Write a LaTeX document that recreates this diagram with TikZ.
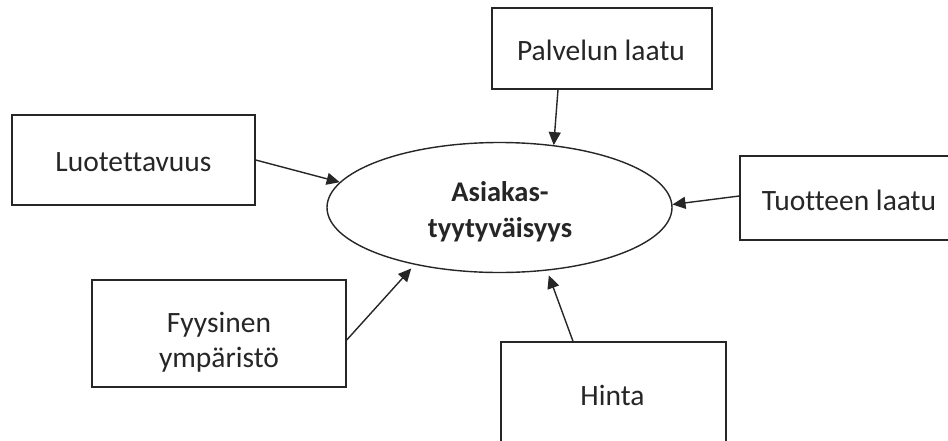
\documentclass[tikz,border=0pt]{standalone}
\usepackage{fontspec}
\setmainfont{Carlito}[Ligatures={NoCommon}]
\usetikzlibrary{arrows.meta,shapes.geometric}
\begin{document}
\begin{tikzpicture}[x=1pt,y=-1pt,
  box/.style={draw=black!85,line width=1.4pt,inner sep=0pt,rectangle},
  lbl/.style={font=\fontsize{29.5}{35}\selectfont,text=black!85,align=center,inner sep=0pt},
  conn/.style={draw=black!85,line width=1.4pt,-{Triangle[length=13pt,width=12pt]}}]
\clip (0,0) rectangle (948,440);
\fill[white] (0,0) rectangle (948,440);
% boxes
\node[box,minimum width=220pt,minimum height=81pt] (pal) at (602,48.5) {};
\node[box,minimum width=243pt,minimum height=90pt] (luo) at (133.5,160) {};
\node[box,minimum width=218pt,minimum height=84pt] (tuo) at (849,198) {};
\node[box,minimum width=254pt,minimum height=107pt] (fyy) at (219,333.5) {};
\node[box,minimum width=225pt,minimum height=102pt] (hin) at (613.5,393) {};
\node[ellipse,draw=black!85,line width=1.4pt,minimum width=345pt,minimum height=130pt,inner sep=0pt] (ell) at (499.5,207.5) {};
% labels
\node[lbl] (palt) at (601,50) {Palvelun laatu};
\node[lbl] (luot) at (133.5,162) {Luotettavuus};
\node[lbl] (tuot) at (849,200) {Tuotteen laatu};
\node[lbl] (fyyt) at (219,342) {Fyysinen\\ympäristö};
\node[lbl] (hint) at (612.5,395) {Hinta};
\node[lbl,font=\fontsize{28.5}{36}\selectfont\bfseries] (ellt) at (500,212) {Asiakas-\\tyytyväisyys};
% connectors
\draw[conn] ([xshift=-44pt]pal.south) -- (ell.49.5);
\draw[conn] (luo.east) -- (ell.171);
\draw[conn] ([yshift=2pt]tuo.west) -- (ell.1.5);
\draw[conn,shorten >=5pt] ([yshift=-6.5pt]fyy.east) -- (ell.214);
\draw[conn,shorten >=5pt] ([xshift=-40.5pt]hin.north) -- (ell.-53.6);
\end{tikzpicture}
\end{document}
